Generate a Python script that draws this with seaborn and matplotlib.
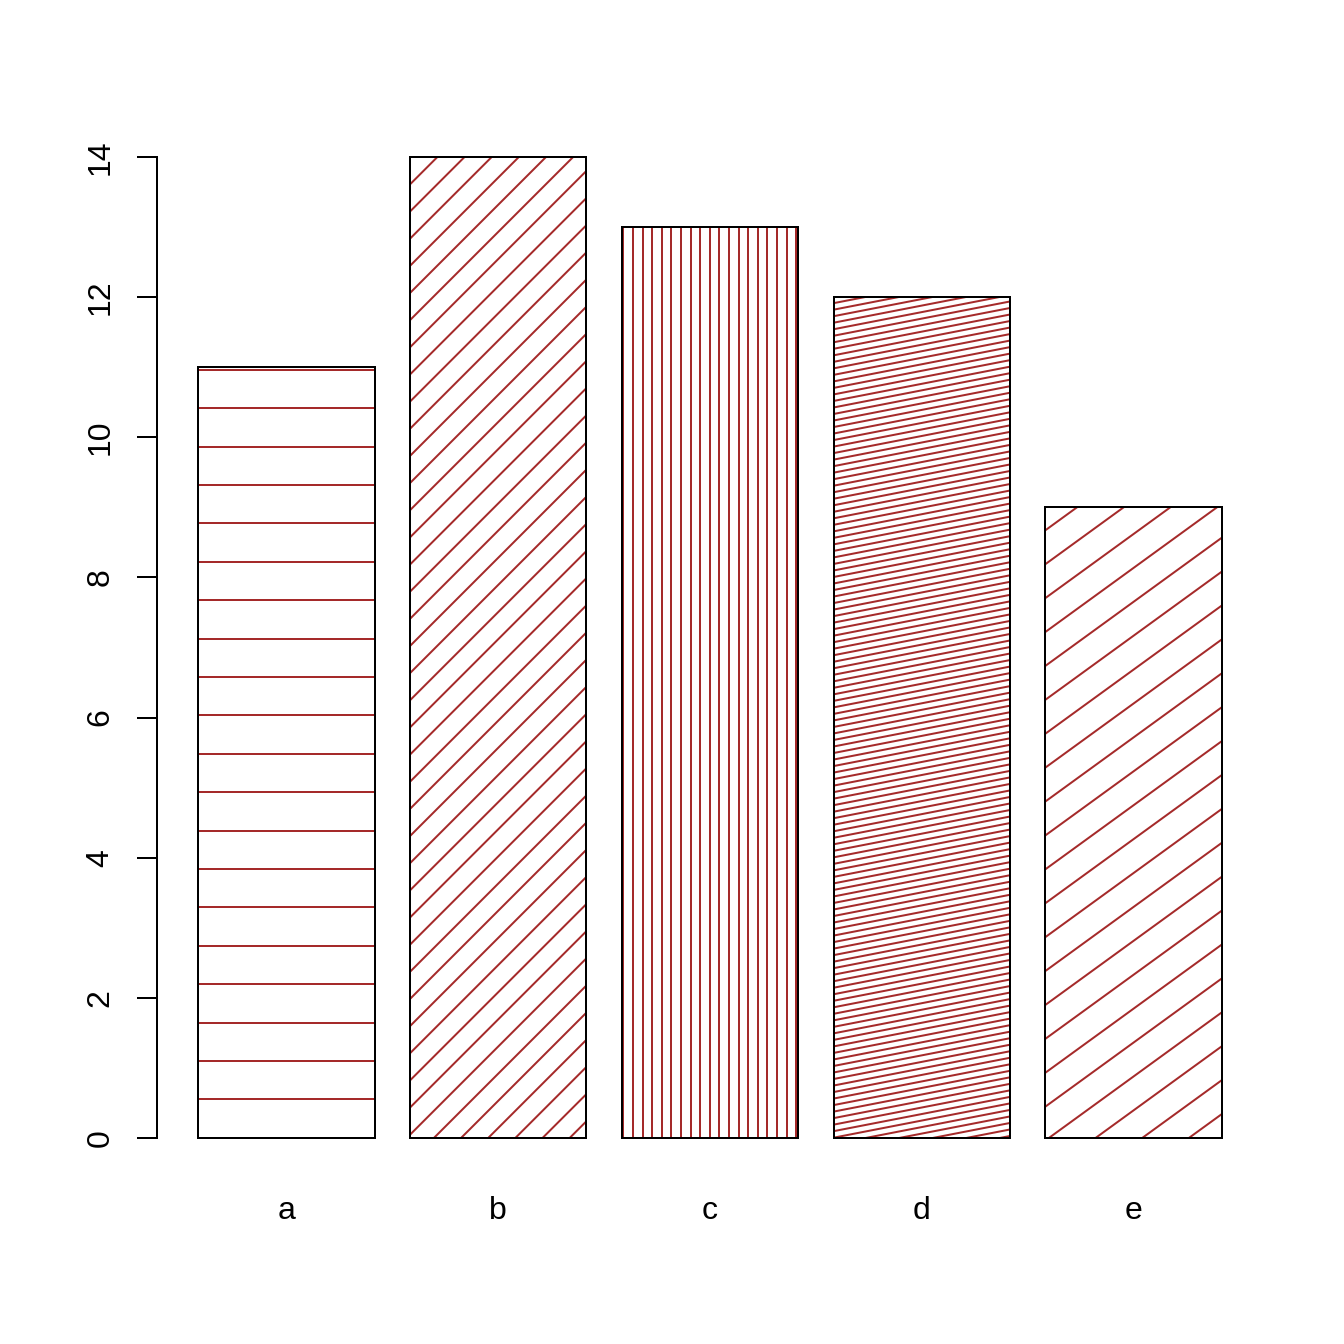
import numpy as np
import pandas as pd
import matplotlib
matplotlib.use("Agg")
import matplotlib.pyplot as plt
import seaborn as sns
from matplotlib.collections import LineCollection

# data
categories = ["a", "b", "c", "d", "e"]
values = [11, 14, 13, 12, 9]
densities = [5, 10, 20, 30, 7]   # hatch lines per inch
angles = [0, 45, 90, 11, 36]     # hatch angle in degrees
yticks = [0, 2, 4, 6, 8, 10, 12, 14]

hatch_color = "#A52A2A"  # R "brown"

sns.set_style("white")
plt.rcParams["font.family"] = ["Liberation Sans", "DejaVu Sans"]

df = pd.DataFrame({"name": categories, "value": values})

fig = plt.figure(figsize=(7, 7), dpi=192)
ax = fig.add_axes([0.1168, 0.1243, 0.8229, 0.7879])

bar_w = 1 / 1.2
sns.barplot(data=df, x="name", y="value", color="black", fill=False,
            width=bar_w, linewidth=0.75, ax=ax, zorder=2)

# R-style axis limits (4% extension)
lo, hi = -bar_w / 2, len(values) - 1 + bar_w / 2
ext = (hi - lo) * 0.04
ax.set_xlim(lo - ext, hi + ext)
ymax = max(values)
ax.set_ylim(-0.04 * ymax, ymax * 1.04)

# =========================
# hatching, like R's polygon density/angle
# =========================
to_disp = ax.transData
inv = to_disp.inverted()
gap = 1 - bar_w
origin = to_disp.transform((ax.patches[0].get_x() - gap, 0))

for patch, dens, ang in zip(ax.patches, densities, angles):
    x, y = patch.get_x(), patch.get_y()
    w, h = patch.get_width(), patch.get_height()
    corners = to_disp.transform([(x, y), (x + w, y), (x, y + h), (x + w, y + h)])
    a = np.deg2rad(ang)
    d = np.array([np.cos(a), np.sin(a)])
    n = np.array([-np.sin(a), np.cos(a)])
    sp = fig.dpi / dens
    s = (corners - origin) @ n
    t = (corners - origin) @ d
    ks = np.arange(np.ceil(s.min() / sp - 1e-6), np.floor(s.max() / sp + 1e-6) + 1)
    segs = []
    for k in ks:
        p = origin + k * sp * n
        seg = np.array([p + (t.min() - 5) * d, p + (t.max() + 5) * d])
        segs.append(inv.transform(seg))
    lc = LineCollection(segs, colors=hatch_color, linewidths=0.75, zorder=1)
    ax.add_collection(lc, autolim=False)
    lc.set_clip_path(patch)

# axes styling
for side in ["top", "right", "bottom"]:
    ax.spines[side].set_visible(False)
ax.spines["left"].set_bounds(0, ymax)
ax.spines["left"].set_linewidth(0.75)
ax.spines["left"].set_color("black")

ax.set_yticks(yticks)
ax.tick_params(axis="y", left=True, length=7.5, width=0.75, pad=8,
               labelsize=12, labelrotation=90, direction="out",
               color="black", labelcolor="black")
ax.tick_params(axis="x", bottom=False, length=0, pad=7, labelsize=12,
               labelcolor="black")
for lab in ax.get_yticklabels():
    lab.set_va("center")
ax.set_xlabel("")
ax.set_ylabel("")

fig.savefig("out.png", dpi=192)
